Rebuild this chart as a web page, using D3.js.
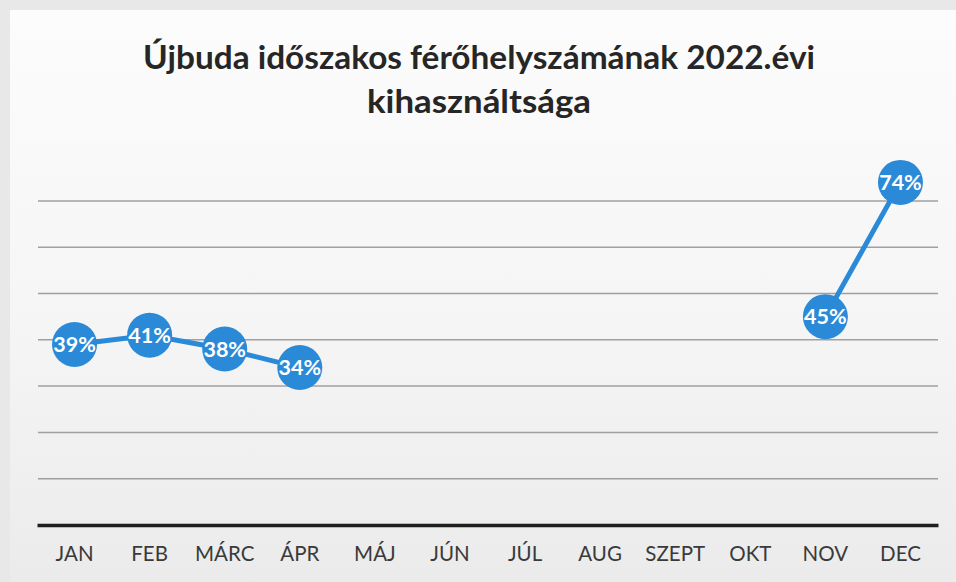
<!DOCTYPE html>
<html>
<head>
<meta charset="utf-8">
<script src="https://cdn.jsdelivr.net/npm/d3@7"></script>
<style>
  html, body { margin: 0; padding: 0; background: #ededed; }
  svg { display: block; }
</style>
</head>
<body>
<div id="main"></div>
<script>

// chart data
var months = ["JAN", "FEB", "MÁRC", "ÁPR", "MÁJ", "JÚN", "JÚL", "AUG", "SZEPT", "OKT", "NOV", "DEC"];
var usage = [39, 41, 38, 34, null, null, null, null, null, null, 45, 74];
var gridTicks = [10, 20, 30, 40, 50, 60, 70];
var titleLines = ["Újbuda időszakos férőhelyszámának 2022.évi", "kihasználtsága"];

var w = 956;
var h = 582;

var svg = d3.select("#main").append("svg")
    .attr("width", w)
    .attr("height", h);

// scanned paper look
var grad = svg.append("defs").append("linearGradient")
    .attr("id", "paper")
    .attr("x1", 0).attr("y1", 0).attr("x2", 0).attr("y2", 1);
grad.append("stop").attr("offset", "0%").attr("stop-color", "#fcfcfc");
grad.append("stop").attr("offset", "55%").attr("stop-color", "#f5f5f5");
grad.append("stop").attr("offset", "100%").attr("stop-color", "#ebebeb");

svg.append("rect").attr("width", w).attr("height", h).attr("fill", "#e8e8e8");
svg.append("rect")
    .attr("x", 10).attr("y", 10)
    .attr("width", w - 10).attr("height", h - 10)
    .attr("fill", "url(#paper)");

var x = d3.scaleBand()
    .domain(months)
    .range([37, 938]);

var y = d3.scaleLinear()
    .domain([0, 80])
    .range([525, 154.6]);

// title
var title = svg.append("g")
    .attr("font-family", "Lato, 'Open Sans', sans-serif")
    .attr("font-weight", "bold")
    .attr("fill", "#262626")
    .attr("text-anchor", "middle")
    .attr("font-size", 33);

title.append("text")
    .attr("x", 479).attr("y", 69)
    .attr("textLength", 672)
    .attr("lengthAdjust", "spacingAndGlyphs")
    .text(titleLines[0]);
title.append("text")
    .attr("x", 479).attr("y", 113)
    .attr("textLength", 224)
    .attr("lengthAdjust", "spacingAndGlyphs")
    .text(titleLines[1]);

// gridlines
svg.append("g")
    .selectAll("line")
    .data(gridTicks)
    .enter()
    .append("line")
    .attr("x1", 38).attr("x2", 938)
    .attr("y1", function(d) { return y(d); })
    .attr("y2", function(d) { return y(d); })
    .attr("stroke", "#a0a0a0")
    .attr("stroke-width", 1.5);

// x axis
var xAxis = svg.append("g")
    .attr("transform", "translate(0," + y(0) + ")")
    .call(d3.axisBottom(x).tickSize(0).tickPadding(21));
xAxis.select(".domain")
    .attr("stroke", "#1e1e1e")
    .attr("stroke-width", 3.5);
xAxis.selectAll("text")
    .attr("font-family", "Lato, 'Open Sans', sans-serif")
    .attr("font-size", 20.5)
    .attr("fill", "#3a3a3a");

var cx = function(d, i) { return x(months[i]) + x.bandwidth() / 2; };

var line = d3.line()
    .defined(function(d) { return d != null; })
    .x(cx)
    .y(function(d) { return y(d); });

svg.append("path")
    .datum(usage)
    .attr("d", line)
    .attr("fill", "none")
    .attr("stroke", "#2a8ad8")
    .attr("stroke-width", 5);

var pts = usage.map(function(d, i) { return {v: d, i: i}; })
    .filter(function(d) { return d.v != null; });

var marks = svg.append("g")
    .selectAll("g")
    .data(pts)
    .enter()
    .append("g")
    .attr("transform", function(d) {
        return "translate(" + cx(d.v, d.i) + "," + y(d.v) + ")";
    });

marks.append("circle")
    .attr("r", 22.5)
    .attr("fill", "#2a8ad8");

marks.append("text")
    .attr("text-anchor", "middle")
    .attr("dy", "0.36em")
    .attr("font-family", "Lato, 'Open Sans', sans-serif")
    .attr("font-weight", "bold")
    .attr("font-size", 21.5)
    .attr("fill", "#ffffff")
    .text(function(d) { return d.v + "%"; });

</script>
</body>
</html>
